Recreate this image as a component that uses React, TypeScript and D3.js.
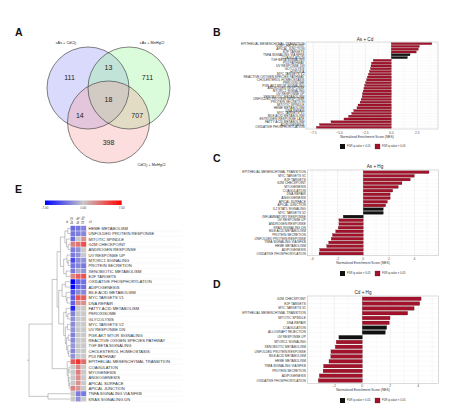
import React from 'react';
import * as d3 from 'd3';

const FONT = 'Liberation Sans, Arial, sans-serif';

// ---------- Panel A: Venn ----------
const vennSets = ['cAs + CdCl', 'cAs + MeHgCl', 'CdCl'];
const vennOnly = [111, 711, 398];
const vennPairs = [13, 14, 707]; // AB, AC, BC
const vennAll = 18;

// ---------- Panel B ----------
const bNames = ['EPITHELIAL MESENCHYMAL TRANSITION', 'G2M CHECKPOINT', 'APICAL JUNCTION', 'E2F TARGETS', 'TNFA SIGNALING VIA NFKB', 'COAGULATION', 'TGF BETA SIGNALING', 'P53 PATHWAY', 'UV RESPONSE DN', 'GLYCOLYSIS', 'HYPOXIA', 'MYC TARGETS V2', 'REACTIVE OXYGEN SPECIES PATHWAY', 'CHOLESTEROL HOMEOSTASIS', 'PEROXISOME', 'PI3K AKT MTOR SIGNALING', 'ANDROGEN RESPONSE', 'MTORC1 SIGNALING', 'UV RESPONSE UP', 'XENOBIOTIC METABOLISM', 'UNFOLDED PROTEIN RESPONSE', 'PROTEIN SECRETION', 'MITOTIC SPINDLE', 'HEME METABOLISM', 'DNA REPAIR', 'MYC TARGETS V1', 'BILE ACID METABOLISM', 'ESTROGEN RESPONSE LATE', 'FATTY ACID METABOLISM', 'ADIPOGENESIS', 'OXIDATIVE PHOSPHORYLATION'];
const bValues = [3.9, 2.7, 2.6, 2.4, 1.8, 1.55, -1.73, -1.9, -1.95, -2.0, -2.1, -2.2, -2.3, -2.37, -2.47, -2.56, -2.63, -2.7, -2.76, -2.8, -2.9, -3.0, -3.2, -3.3, -3.6, -3.8, -4.1, -4.55, -5.8, -6.9, -7.2];
const bSig = [1, 1, 1, 1, 0, 0, 1, 1, 1, 1, 1, 1, 1, 1, 1, 1, 1, 1, 1, 1, 1, 1, 1, 1, 1, 1, 1, 1, 1, 1, 1];
const bTicks = [-7.5, -5, -2.5, 0, 2.5];

// ---------- Panel C ----------
const cNames = ['EPITHELIAL MESENCHYMAL TRANSITION', 'MYC TARGETS V1', 'E2F TARGETS', 'G2M CHECKPOINT', 'MYOGENESIS', 'COAGULATION', 'DNA REPAIR', 'ANGIOGENESIS', 'APICAL SURFACE', 'APICAL JUNCTION', 'IL2 STAT5 SIGNALING', 'MYC TARGETS V2', 'INFLAMMATORY RESPONSE', 'UV RESPONSE UP', 'ANDROGEN RESPONSE', 'KRAS SIGNALING DN', 'BILE ACID METABOLISM', 'PROTEIN SECRETION', 'UNFOLDED PROTEIN RESPONSE', 'TNFA SIGNALING VIA NFKB', 'HEME METABOLISM', 'ADIPOGENESIS', 'OXIDATIVE PHOSPHORYLATION'];
const cValues = [5.13, 3.98, 3.67, 3.02, 2.73, 2.3, 2.1, 2.1, 1.88, 1.75, 1.56, 1.56, -1.56, -1.9, -1.9, -1.95, -2.15, -2.4, -2.5, -2.7, -2.85, -3.4, -3.45];
const cSig = [1, 1, 1, 1, 1, 1, 1, 1, 1, 1, 0, 0, 0, 1, 1, 1, 1, 1, 1, 1, 1, 1, 1];
const cTicks = [-4, -2, 0, 2, 4];

// ---------- Panel D ----------
const dNames = ['G2M CHECKPOINT', 'E2F TARGETS', 'MYC TARGETS V1', 'EPITHELIAL MESENCHYMAL TRANSITION', 'MITOTIC SPINDLE', 'DNA REPAIR', 'COAGULATION', 'ALLOGRAFT REJECTION', 'UV RESPONSE UP', 'MTORC1 SIGNALING', 'XENOBIOTIC METABOLISM', 'UNFOLDED PROTEIN RESPONSE', 'BILE ACID METABOLISM', 'HEME METABOLISM', 'TNFA SIGNALING VIA NFKB', 'PROTEIN SECRETION', 'ADIPOGENESIS', 'OXIDATIVE PHOSPHORYLATION'];
const dValues = [4.2, 4.1, 3.7, 3.24, 1.98, 1.93, 1.74, 1.64, -1.67, -1.86, -1.93, -2.24, -2.25, -2.38, -2.76, -2.8, -3.07, -3.14];
const dSig = [1, 1, 1, 1, 1, 1, 0, 0, 0, 1, 1, 1, 1, 1, 1, 1, 1, 1];
const dTicks = [-2, 0, 2, 4];

// ---------- Panel E: heatmap ----------
const heatCols = ['As Cd', 'As Hg', 'Cd Hg'];
const heatRows = ['HEME METABOLISM', 'UNFOLDED PROTEIN RESPONSE', 'MITOTIC SPINDLE', 'G2M CHECKPOINT', 'ANDROGEN RESPONSE', 'UV RESPONSE UP', 'MTORC1 SIGNALING', 'PROTEIN SECRETION', 'XENOBIOTIC METABOLISM', 'E2F TARGETS', 'OXIDATIVE PHOSPHORYLATION', 'ADIPOGENESIS', 'BILE ACID METABOLISM', 'MYC TARGETS V1', 'DNA REPAIR', 'FATTY ACID METABOLISM', 'PEROXISOME', 'GLYCOLYSIS', 'MYC TARGETS V2', 'UV RESPONSE DN', 'PI3K AKT MTOR SIGNALING', 'REACTIVE OXIGEN SPECIES PATHWAY', 'TGF BETA SIGNALING', 'CHOLESTEROL HOMEOSTASIS', 'P53 PATHWAY', 'EPITHELIAL MESENCHYMAL TRANSITION', 'COAGULATION', 'MYOGENESIS', 'ANGIOGENESIS', 'APICAL SURFACE', 'APICAL JUNCTION', 'TNFA SIGNALING VIA NFKB', 'KRAS SIGNALING DN'];
const heatAsCd = [-3.3, -2.9, -3.2, 2.6, -2.6, -2.8, -4.5, -3.0, -2.8, 2.4, -7.2, -6.9, -4.1, -3.8, -3.6, -5.8, -2.5, -2.0, -2.2, -1.95, -2.6, -2.3, -1.75, -2.4, -1.9, 3.9, 0, 0, 0, 0, 2.4, 0, 0];
const heatAsHg = [-2.85, -2.5, 0, 3.0, -1.9, -1.9, -2.2, -2.4, -1.0, 3.7, -3.45, -3.4, -2.15, 4.0, 2.1, 0, 0, 0, 0, 0, 0, 0, 0, 0, 0, 5.2, 2.3, 2.7, 2.1, 1.9, 1.75, -2.7, -1.95];
const heatCdHg = [-2.4, -2.25, 2.0, 4.2, 0, 0, -1.9, -2.8, -1.9, 4.1, -3.1, -3.1, -2.25, 3.7, 1.95, 0, 0, 0, 0, 0, 0, 0, 0, 0, 0, 3.2, 0, 0, 0, 0, 0, -2.8, 0];
const colorStops = [-7, 0, 7];
const colorLabels = ['-7.00', '0.00', '7.00'];
// dendrogram: [height, left, right], leaves are row indices
const dendro: any = [10,
  [4.4,
    [3.2,
      [2.4, [1.3, [0.6, 0, 1], [0.9, 2, [0.5, 3, 4]]], [1.6, [0.8, 5, [0.5, 6, 7]], [1.0, 8, 9]]],
      [2.8, [2.0, [1.2, 10, 11], [1.0, 12, [0.8, 13, 14]]], [1.6, [1.0, 15, [0.6, 16, 17]], [1.2, [0.7, 18, 19], [0.9, [0.5, 20, 21], [0.6, 22, [0.4, 23, 24]]]]]]],
    [0.75, 25, [0.5, [0.3, 26, 27], [0.35, 28, [0.25, 29, 30]]]]],
  [5.4, 31, 32]];

type Box = { x0: number; x1: number; y0: number; y1: number; domain: [number, number]; titleX: number; titleY: number; tickY: number; axX: number; axY: number; legY: number };

function BarPanel({ title, names, values, sig, ticks, fmt, box }: any) {
  const b: Box = box;
  const x = d3.scaleLinear().domain(b.domain).range([b.x0, b.x1]);
  const y = d3.scaleBand<string>().domain(names).range([b.y0, b.y1]).paddingInner(0.25).paddingOuter(0.2);
  const step = ticks[1] - ticks[0];
  const minor = d3.range(ticks[0] - step / 2, b.domain[1], step).filter((v: number) => v > b.domain[0] && v < b.domain[1]);
  const red = '#a3122b';
  return (
    <g fontFamily={FONT}>
      <rect x={b.x0} y={b.y0} width={b.x1 - b.x0} height={b.y1 - b.y0} fill="#fff" />
      {minor.map((v: number, i: number) => (
        <line key={'m' + i} x1={x(v)} x2={x(v)} y1={b.y0} y2={b.y1} stroke="#f0f0f0" strokeWidth={0.4} />
      ))}
      {ticks.map((v: number, i: number) => (
        <line key={'t' + i} x1={x(v)} x2={x(v)} y1={b.y0} y2={b.y1} stroke="#e2e2e2" strokeWidth={0.5} />
      ))}
      {names.map((n: string, i: number) => (
        <line key={'h' + i} x1={b.x0} x2={b.x1} y1={(y(n) as number) + y.bandwidth() / 2} y2={(y(n) as number) + y.bandwidth() / 2} stroke="#ededed" strokeWidth={0.3} />
      ))}
      {names.map((n: string, i: number) => (
        <rect key={'b' + i} x={Math.min(x(0), x(values[i]))} y={y(n)} width={Math.abs(x(values[i]) - x(0))} height={y.bandwidth()}
          fill={sig[i] ? red : '#111'} stroke={sig[i] ? '#5a0a14' : '#000'} strokeWidth={0.25} />
      ))}
      <rect x={b.x0} y={b.y0} width={b.x1 - b.x0} height={b.y1 - b.y0} fill="none" stroke="#c4c4c4" strokeWidth={0.6} />
      {names.map((n: string, i: number) => (
        <text key={'l' + i} x={b.x0 - 1.5} y={(y(n) as number) + y.bandwidth() / 2} fontSize={3.2} textAnchor="end" dominantBaseline="central" fill="#333">{n}</text>
      ))}
      {ticks.map((v: number, i: number) => (
        <text key={'tl' + i} x={x(v)} y={b.tickY} fontSize={3.4} textAnchor="middle" dominantBaseline="central" fill="#555">{fmt(v)}</text>
      ))}
      <text x={b.axX} y={b.axY} fontSize={3.3} textAnchor="middle" dominantBaseline="central" fill="#333">Normalized Enrichment Score (NES)</text>
      <text x={b.titleX} y={b.titleY} fontSize={4.6} textAnchor="middle" dominantBaseline="central" fill="#222">{title}</text>
      <rect x={340} y={b.legY - 2.5} width={5} height={5} fill="#111" />
      <text x={347} y={b.legY} fontSize={2.7} dominantBaseline="central" fill="#333">FDR q-value &gt; 0.05</text>
      <rect x={375} y={b.legY - 2.5} width={5} height={5} fill={red} stroke="#5a0a14" strokeWidth={0.25} />
      <text x={382} y={b.legY} fontSize={2.7} dominantBaseline="central" fill="#333">FDR q-value &lt; 0.05</text>
    </g>
  );
}

function Venn() {
  // layout of the three circles in unit coordinates
  const sx = d3.scaleLinear().domain([0, 1]).range([88, 129]);
  const sy = d3.scaleLinear().domain([0, 1]).range([88, 122]);
  const r = 41;
  const centers = [[sx(0), sy(0)], [sx(1), sy(0)], [sx(0.5), sy(1)]];
  const fills = ['#8f8ff5', '#8ff58f', '#f59a9a'];
  const g = [d3.mean(centers, (c) => c[0]) as number, d3.mean(centers, (c) => c[1]) as number];
  const push = (p: number[], k: number) => [p[0] + (p[0] - g[0]) * k, p[1] + (p[1] - g[1]) * k];
  const pairIdx = [[0, 1], [0, 2], [1, 2]];
  const labels: any[] = [];
  vennOnly.forEach((v, i) => labels.push({ v, p: push(centers[i], 0.9) }));
  vennPairs.forEach((v, i) => {
    const [a, bb] = pairIdx[i];
    const mid = [(centers[a][0] + centers[bb][0]) / 2, (centers[a][1] + centers[bb][1]) / 2];
    labels.push({ v, p: push(mid, 1.8) });
  });
  labels.push({ v: vennAll, p: g });
  return (
    <g fontFamily={FONT}>
      {centers.map((c, i) => (
        <circle key={'f' + i} cx={c[0]} cy={c[1]} r={r} fill={fills[i]} fillOpacity={0.33} />
      ))}
      {centers.map((c, i) => (
        <circle key={'s' + i} cx={c[0]} cy={c[1]} r={r} fill="none" stroke="#333" strokeWidth={0.6} />
      ))}
      {labels.map((l, i) => (
        <text key={'n' + i} x={l.p[0]} y={l.p[1]} fontSize={7} textAnchor="middle" dominantBaseline="central" fill="#222">{l.v}</text>
      ))}
      <text x={centers[0][0] - 22} y={centers[0][1] - r - 3} fontSize={3.8} textAnchor="middle" fill="#222">{vennSets[0]}<tspan fontSize={2.6} dy={1}>2</tspan></text>
      <text x={centers[1][0] + 23} y={centers[1][1] - r - 3} fontSize={3.8} textAnchor="middle" fill="#222">{vennSets[1]}</text>
      <text x={centers[2][0] + 43} y={centers[2][1] + r + 3} fontSize={3.8} textAnchor="middle" fill="#222">{vennSets[2]}<tspan fontSize={2.6} dy={1}>2</tspan><tspan dy={-1}> + MeHgCl</tspan></text>
    </g>
  );
}

function Heatmap() {
  const y = d3.scaleBand<string>().domain(heatRows).range([225.7, 401.7]);
  const x = d3.scaleBand<string>().domain(heatCols).range([70.3, 86.3]);
  const color = d3.scaleLinear<string>().domain(colorStops).range(['#0000ff', '#c9c9c9', '#ff0000']);
  const cols = [heatAsCd, heatAsHg, heatCdHg];
  const dx = d3.scaleLinear().domain([0, 10]).range([70.3, 29]);
  const segs: any[] = [];
  const lay = (node: any): number[] => {
    if (typeof node === 'number') {
      return [dx(0), (y(heatRows[node]) as number) + y.bandwidth() / 2];
    }
    const [h, l, rr] = node;
    const a = lay(l);
    const c = lay(rr);
    const nx = dx(h);
    segs.push([nx, a[1], nx, c[1]]);
    segs.push([nx, a[1], a[0], a[1]]);
    segs.push([nx, c[1], c[0], c[1]]);
    return [nx, (a[1] + c[1]) / 2];
  };
  const root = lay(dendro);
  const barX = d3.scaleLinear().domain([-7, 7]).range([45, 121.7]);
  const gradStops = d3.range(-7, 7.01, 0.5);
  return (
    <g fontFamily={FONT}>
      <defs>
        <linearGradient id="hg" x1="0" x2="1" y1="0" y2="0">
          {gradStops.map((v: number, i: number) => (
            <stop key={i} offset={(v + 7) / 14} stopColor={color(v)} />
          ))}
        </linearGradient>
      </defs>
      <rect x={barX(-7)} y={200.5} width={barX(7) - barX(-7)} height={4.5} fill="url(#hg)" />
      {colorStops.map((v, i) => (
        <text key={i} x={barX(v)} y={208} fontSize={3} textAnchor="middle" dominantBaseline="central" fill="#444">{colorLabels[i]}</text>
      ))}
      {heatRows.map((n, i) => (
        <line key={'g' + i} x1={86.3} x2={182} y1={(y(n) as number) + y.bandwidth()} y2={(y(n) as number) + y.bandwidth()} stroke="#ececec" strokeWidth={0.3} />
      ))}
      {heatRows.map((n, i) =>
        heatCols.map((c, j) => (
          <rect key={i + '-' + j} x={x(c)} y={y(n)} width={x.bandwidth()} height={y.bandwidth()} fill={color(cols[j][i])} stroke="#fff" strokeWidth={0.35} />
        ))
      )}
      {heatCols.map((c, j) => (
        <text key={'c' + j} transform={`translate(${(x(c) as number) + x.bandwidth() / 2},${224})rotate(-90)`} fontSize={2.6} dominantBaseline="central" fill="#444">{c}</text>
      ))}
      <text x={67} y={222.5} fontSize={2.6} textAnchor="middle" fill="#444">id</text>
      <text x={89} y={222.5} fontSize={2.6} fill="#444">x3</text>
      {heatRows.map((n, i) => (
        <text key={'r' + i} x={88.5} y={(y(n) as number) + y.bandwidth() / 2} fontSize={4.1} dominantBaseline="central" fill="#333">{n}</text>
      ))}
      {segs.map((s, i) => (
        <line key={'d' + i} x1={s[0]} y1={s[1]} x2={s[2]} y2={s[3]} stroke="#8a8a8a" strokeWidth={0.5} />
      ))}
      <line x1={root[0]} x2={root[0] - 2} y1={root[1]} y2={root[1]} stroke="#8a8a8a" strokeWidth={0.5} />
    </g>
  );
}

const boxB: Box = { x0: 306, x1: 438, y0: 42, y1: 129, domain: [-8.2, 4.49], titleX: 365, titleY: 39, tickY: 132.7, axX: 367, axY: 137, legY: 146.5 };
const boxC: Box = { x0: 307.3, x1: 438.3, y0: 170, y1: 255.7, domain: [-4.37, 5.86], titleX: 375, titleY: 166.5, tickY: 258.7, axX: 363, axY: 263.3, legY: 273.5 };
const boxD: Box = { x0: 307.3, x1: 438.3, y0: 296, y1: 383.3, domain: [-3.93, 5.43], titleX: 363, titleY: 292, tickY: 386, axX: 363, axY: 389.5, legY: 400.5 };

export default function App() {
  const f1 = d3.format('.1f');
  const f0 = (v: number) => String(v);
  const letter = (t: string, x: number, y: number) => (
    <text x={x} y={y} fontSize={10.5} fontWeight="bold" fontFamily={FONT} fill="#111">{t}</text>
  );
  return (
    <svg width={465} height={411} style={{ position: 'absolute', left: 0, top: 0, background: '#fff' }}>
      <rect width={465} height={411} fill="#fff" />
      {letter('A', 15, 36)}
      {letter('B', 213, 36)}
      {letter('C', 213, 162)}
      {letter('D', 213, 288)}
      {letter('E', 15, 193)}
      <Venn />
      <BarPanel title="As + Cd" names={bNames} values={bValues} sig={bSig} ticks={bTicks} fmt={f1} box={boxB} />
      <BarPanel title="As + Hg" names={cNames} values={cValues} sig={cSig} ticks={cTicks} fmt={f0} box={boxC} />
      <BarPanel title="Cd + Hg" names={dNames} values={dValues} sig={dSig} ticks={dTicks} fmt={f0} box={boxD} />
      <Heatmap />
    </svg>
  );
}
